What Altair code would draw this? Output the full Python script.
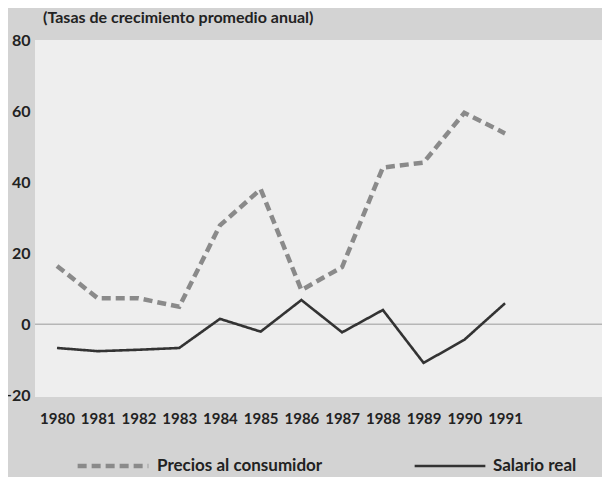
import altair as alt
import pandas as pd

years = list(range(1980, 1992))
precios = [16.4, 7.3, 7.3, 4.9, 27.8, 38.0, 9.6, 16.1, 44.1, 45.5, 59.5, 53.7]
salario = [-6.7, -7.6, -7.2, -6.7, 1.5, -2.1, 6.8, -2.3, 4.0, -10.9, -4.4, 5.9]
series_names = ["Precios al consumidor", "Salario real"]
y_ticks = [-20, 0, 20, 40, 60, 80]

rows = []
for y, p, s in zip(years, precios, salario):
    rows.append({"year": y, "value": p, "serie": series_names[0]})
    rows.append({"year": y, "value": s, "serie": series_names[1]})
df = pd.DataFrame(rows)
zero_df = pd.DataFrame({"v": [0]})

FONT = "Lato"

x_enc = alt.X("year:Q", scale=alt.Scale(domain=[1979.46, 1993.38], nice=False, zero=False),
              axis=alt.Axis(values=years, format="d", title=None, grid=False, domain=False,
                            ticks=False, labelPadding=14, labelFontSize=15,
                            labelFont=FONT, labelFontWeight="bold", labelColor="#222222"))
y_enc = alt.Y("value:Q", scale=alt.Scale(domain=[-20.5, 80], nice=False, zero=False),
              axis=alt.Axis(values=y_ticks, title=None, grid=False, domain=False, ticks=False,
                            labelPadding=5, labelFontSize=16, labelFont=FONT,
                            labelFontWeight="bold", labelColor="#222222"))

lines = alt.Chart(df).mark_line(strokeCap="butt").encode(
    x=x_enc,
    y=y_enc,
    color=alt.Color("serie:N", scale=alt.Scale(domain=series_names, range=["#8a8a8a", "#333333"]),
                    legend=alt.Legend(title=None, orient="none", direction="horizontal",
                                      legendX=40, legendY=388, symbolType="stroke",
                                      symbolSize=5000, columnPadding=86, labelFont=FONT,
                                      labelFontWeight="bold", labelFontSize=17, labelLimit=300,
                                      labelColor="#222222", labelOffset=6)),
    strokeDash=alt.StrokeDash("serie:N", scale=alt.Scale(domain=series_names, range=[[9, 5], [1, 0]]),
                              legend=None),
    strokeWidth=alt.StrokeWidth("serie:N", scale=alt.Scale(domain=series_names, range=[4.5, 2.6]),
                                legend=None),
    detail="serie:N",
)

zero = alt.Chart(zero_df).mark_rule(color="#9a9a9a", strokeWidth=1).encode(y=alt.Y("v:Q"))

chart = alt.layer(zero, lines).properties(
    width=567, height=357,
    title=alt.TitleParams("(Tasas de crecimiento promedio anual)", anchor="start", frame="group",
                          dx=8, offset=6, fontSize=16, font=FONT, fontWeight="bold",
                          color="#222222"),
    background="#d3d3d3",
    padding={"left": 27, "top": 32, "right": 0, "bottom": 80},
    autosize=alt.AutoSizeParams(type="none"),
).configure_view(fill="#eeeeee", stroke=None)

chart.save("out.html", embed_options={"renderer": "svg", "actions": False})
